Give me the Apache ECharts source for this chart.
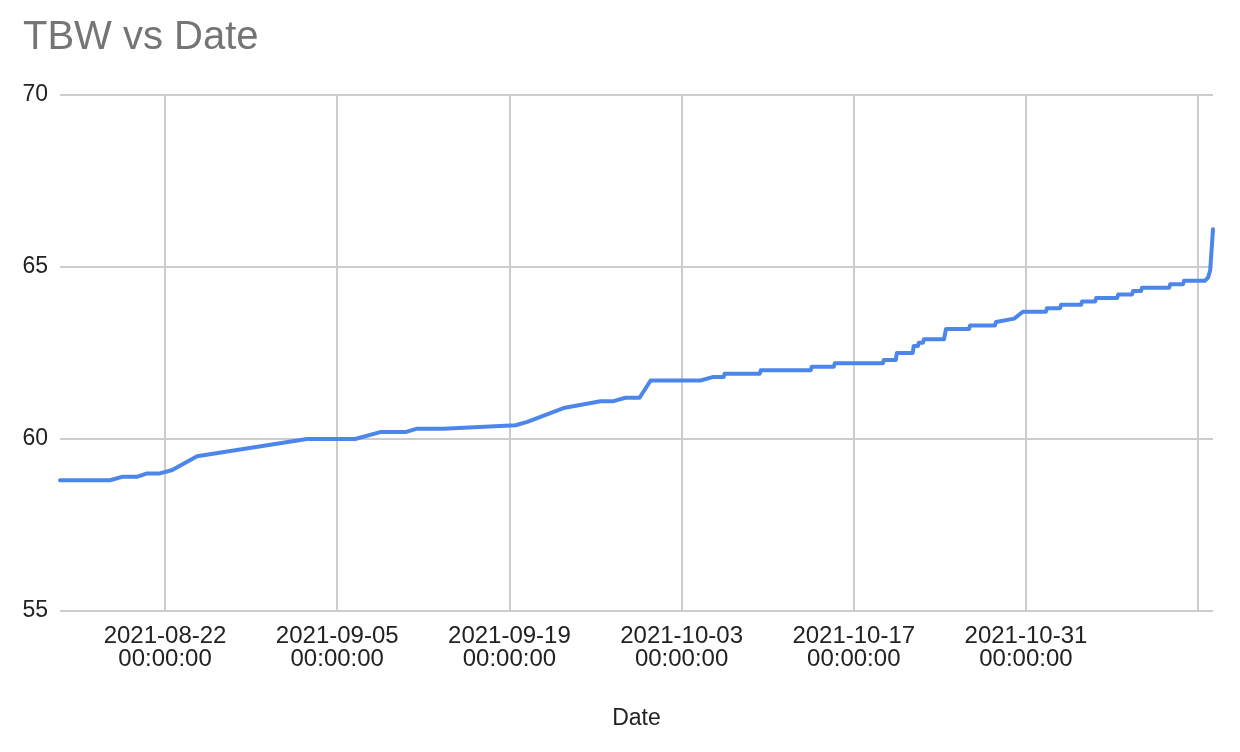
<!DOCTYPE html>
<html><head><meta charset="utf-8">
<script src="https://cdn.jsdelivr.net/npm/echarts@6/dist/echarts.min.js"></script>
<style>html,body{margin:0;padding:0;background:#fff}#c{width:1240px;height:752px}</style>
</head><body><div id="c"></div>
<script>
const dates = [
'2021-08-13 11:00','2021-08-17 12:30','2021-08-18 12:00','2021-08-19 17:00','2021-08-20 13:00','2021-08-21 14:00',
'2021-08-22 14:00','2021-08-24 14:30','2021-09-02 13:00','2021-09-06 11:00','2021-09-08 12:00','2021-09-10 13:00',
'2021-09-11 12:00','2021-09-13 15:00','2021-09-19 12:00','2021-09-20 11:00','2021-09-23 09:30','2021-09-26 10:00',
'2021-09-27 11:00','2021-09-28 10:30','2021-09-29 14:00','2021-09-30 11:30','2021-10-04 13:00','2021-10-05 12:30',
'2021-10-06 10:00','2021-10-06 12:00','2021-10-09 08:30','2021-10-09 10:30','2021-10-13 12:00','2021-10-13 14:00',
'2021-10-15 09:00','2021-10-15 11:00','2021-10-19 08:40','2021-10-19 10:40','2021-10-20 10:00','2021-10-20 12:00',
'2021-10-21 19:00','2021-10-21 21:00','2021-10-22 05:00','2021-10-22 07:00','2021-10-22 15:00','2021-10-22 17:00',
'2021-10-24 08:00','2021-10-24 12:00','2021-10-26 09:00','2021-10-26 11:00','2021-10-28 11:30','2021-10-28 13:30',
'2021-10-30 01:00','2021-10-30 18:00','2021-11-01 15:00','2021-11-01 17:00','2021-11-02 18:30','2021-11-02 20:30',
'2021-11-04 11:30','2021-11-04 13:30','2021-11-05 15:00','2021-11-05 17:00','2021-11-07 10:00','2021-11-07 12:00',
'2021-11-08 15:00','2021-11-08 17:00','2021-11-09 08:30','2021-11-09 10:30','2021-11-11 15:30','2021-11-11 17:30',
'2021-11-12 18:30','2021-11-12 20:30','2021-11-14 13:30','2021-11-14 19:30','2021-11-14 23:30','2021-11-15 05:00'
];
const tbw = [
58.8,58.8,58.9,58.9,59.0,59.0,
59.1,59.5,60.0,60.0,60.2,60.2,
60.3,60.3,60.4,60.5,60.9,61.1,
61.1,61.2,61.2,61.7,61.7,61.8,
61.8,61.9,61.9,62.0,62.0,62.1,
62.1,62.2,62.2,62.3,62.3,62.5,
62.5,62.7,62.7,62.8,62.8,62.9,
62.9,63.2,63.2,63.3,63.3,63.4,
63.5,63.7,63.7,63.8,63.8,63.9,
63.9,64.0,64.0,64.1,64.1,64.2,
64.2,64.3,64.3,64.4,64.4,64.5,
64.5,64.6,64.6,64.7,64.9,66.1
];
const tickOriginDate = '2021-08-22 00:00'; // one of the x tick labels
const tickStepDays = 14;
const yMin = 55, yMax = 70, yStep = 5;
const titleText = 'TBW vs Date';
const xName = 'Date';

function parseUTC(s){
  const [d,t] = s.split(' ');
  const [Y,M,D] = d.split('-').map(Number);
  const [h,m] = (t||'00:00').split(':').map(Number);
  return Date.UTC(Y,M-1,D,h,m);
}
const DAY = 86400000;
const origin = parseUTC(tickOriginDate);
const pts = dates.map((d,i)=>[(parseUTC(d)-origin)/DAY, tbw[i]]);
const xMaxDay = pts[pts.length-1][0];
function pad(n){return (n<10?'0':'')+n;}
function fmt(v){
  // the label at the last tick would run past the chart edge, so it is left out (as in the reference)
  if (v > xMaxDay - 5) return '';
  const dt = new Date(origin + Math.round(v*DAY));
  return dt.getUTCFullYear()+'-'+pad(dt.getUTCMonth()+1)+'-'+pad(dt.getUTCDate())+'\n'+
    pad(dt.getUTCHours())+':'+pad(dt.getUTCMinutes())+':'+pad(dt.getUTCSeconds());
}
const FONT = '"Liberation Sans", Arial, sans-serif';
const chart = echarts.init(document.getElementById('c'), null, {renderer:'canvas'});
chart.setOption({
  animation:false,
  backgroundColor:'#ffffff',
  title:{text:titleText,left:18,top:13,textStyle:{fontFamily:FONT,fontSize:40,fontWeight:'normal',color:'#757575'}},
  grid:{left:60,right:27,top:95,bottom:141,containLabel:false,outerBoundsMode:'none'},
  xAxis:{
    type:'value',min:'dataMin',max:'dataMax',minInterval:tickStepDays,maxInterval:tickStepDays,splitNumber:7,
    name:xName,nameLocation:'middle',nameGap:96,
    nameTextStyle:{fontFamily:FONT,fontSize:23,color:'#222'},
    axisLine:{show:false},axisTick:{show:false},
    axisLabel:{showMinLabel:false,showMaxLabel:false,formatter:fmt,fontFamily:FONT,fontSize:24,color:'#222',margin:14,lineHeight:23},
    splitLine:{show:true,showMinLine:false,showMaxLine:false,lineStyle:{color:'#cccccc',width:2}}
  },
  yAxis:{
    type:'value',min:yMin,max:yMax,interval:yStep,
    axisLine:{show:false},axisTick:{show:false},
    axisLabel:{fontFamily:FONT,fontSize:23,color:'#222',margin:12},
    splitLine:{show:true,lineStyle:{color:'#cccccc',width:2}}
  },
  series:[{
    type:'line',data:pts,showSymbol:false,symbol:'none',
    lineStyle:{color:'#4d86ea',width:4,cap:'round',join:'round'}
  }]
});
</script>
</body></html>
